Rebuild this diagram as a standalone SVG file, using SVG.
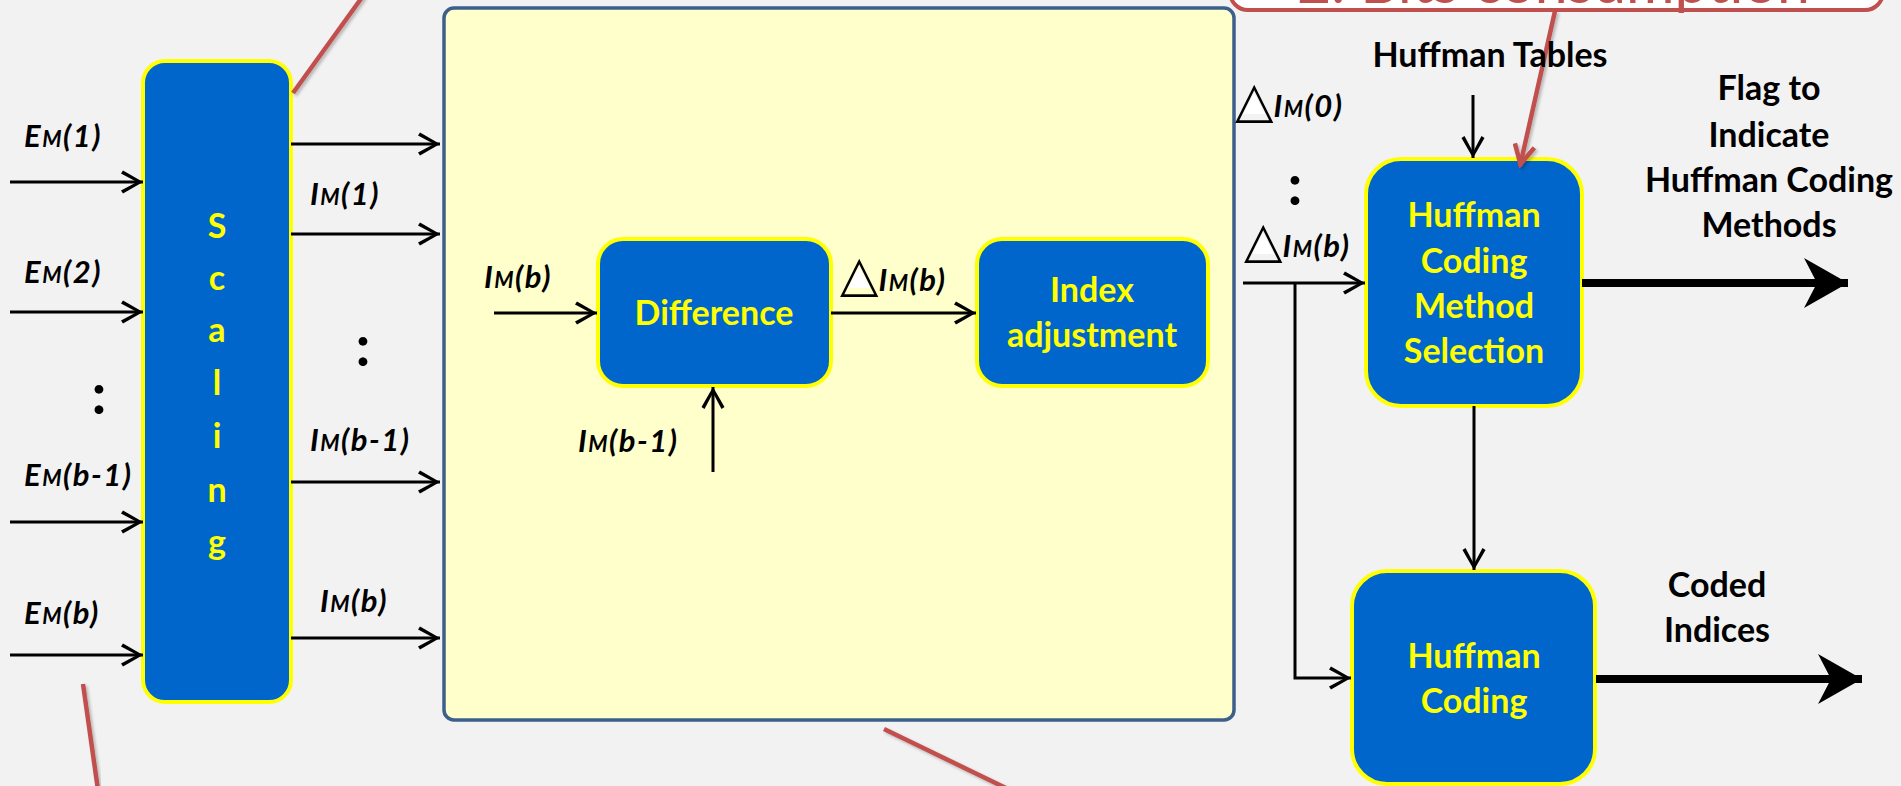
<svg xmlns="http://www.w3.org/2000/svg" width="1901" height="786" viewBox="0 0 1901 786">
  <style>
    .block { fill: #0066CC; stroke: #FFFF00; stroke-width: 4; }
    .btxt { font-family: Lato, "Liberation Sans", sans-serif; font-weight: bold; font-size: 34px; fill: #FFFF00; text-anchor: middle; }
    .lbl { font-family: Lato, "Liberation Sans", sans-serif; font-weight: bold; font-size: 34px; fill: #000; text-anchor: middle; }
    .sym { font-family: Lato, "Liberation Sans", sans-serif; font-weight: bold; font-style: italic; font-size: 31px; letter-spacing: 1.5px; fill: #000; }
    .sym .s { font-size: 22px; }
    .dots { font-family: Lato, "Liberation Sans", sans-serif; font-weight: bold; font-size: 58px; fill: #000; text-anchor: middle; }
    .tri { font-family: "DejaVu Sans", sans-serif; font-size: 50px; font-style: normal; font-weight: normal; letter-spacing: 0; fill: #000; }
    .wire { fill: none; stroke: #000; stroke-width: 3; }
    .thick { fill: none; stroke: #000; stroke-width: 8; }
    .red { fill: none; stroke: #C0504D; stroke-width: 4.5; filter: url(#shadow); }
    .fillw { fill: #FFFFFF; }
  </style>
  <defs>
    <marker id="head" viewBox="-24 -14 26 28" markerWidth="26" markerHeight="28" refX="0" refY="0" orient="auto" markerUnits="userSpaceOnUse">
      <polygon points="0,0 -20,-11.5 -22,-8.5 -6,0 -22,8.5 -20,11.5" fill="#000"/>
    </marker>
    <marker id="bighead" viewBox="-48 -28 50 56" markerWidth="50" markerHeight="56" refX="0" refY="0" orient="auto" markerUnits="userSpaceOnUse">
      <polygon points="0,0 -44,-25 -31,0 -44,25" fill="#000"/>
    </marker>
    <marker id="redhead" viewBox="-26 -16 30 32" markerWidth="30" markerHeight="32" refX="0" refY="0" orient="auto" markerUnits="userSpaceOnUse">
      <path d="M-21,-10 L-2,0 L-21,10" fill="none" stroke="#C0504D" stroke-width="4.5"/>
    </marker>
    <filter id="shadow" x="-20%" y="-20%" width="140%" height="140%">
      <feDropShadow dx="2" dy="2" stdDeviation="1.5" flood-color="#000" flood-opacity="0.25"/>
    </filter>
  </defs>

  <!-- page -->
  <rect x="0" y="0" width="1901" height="786" fill="#F2F2F2"/>

  <!-- container for the differential index stage -->
  <g id="diff-stage">
    <rect x="444" y="8" width="790" height="712" rx="10" fill="#FFFFCC" stroke="#3D5F8C" stroke-width="3.5"/>
  </g>

  <!-- callout: bit consumption -->
  <g id="callout-bits">
    <rect x="1230" y="-60" width="653" height="70" rx="18" fill="#FFFFFF" stroke="#C0504D" stroke-width="4"/>
    <text x="1297" y="3" font-family="Lato, 'Liberation Sans', sans-serif" font-size="58" fill="#C0504D" textLength="513" lengthAdjust="spacingAndGlyphs">2. Bits consumption</text>
  </g>

  <!-- blocks -->
  <g id="scaling">
    <rect class="block" x="143" y="61" width="148" height="641" rx="22"/>
    <text class="btxt" x="217" y="238">S</text>
    <text class="btxt" x="217" y="290">c</text>
    <text class="btxt" x="217" y="342">a</text>
    <text class="btxt" x="217" y="395">l</text>
    <text class="btxt" x="217" y="448">i</text>
    <text class="btxt" x="217" y="502">n</text>
    <text class="btxt" x="217" y="554">g</text>
  </g>
  <g id="difference">
    <rect class="block" x="598" y="239" width="233" height="147" rx="25"/>
    <text class="btxt" x="714" y="325">Difference</text>
  </g>
  <g id="index-adjustment">
    <rect class="block" x="977" y="239" width="231" height="147" rx="25"/>
    <text class="btxt" x="1092" y="302">Index</text>
    <text class="btxt" x="1092" y="347">adjustment</text>
  </g>
  <g id="method-selection">
    <rect class="block" x="1366" y="159" width="216" height="247" rx="35"/>
    <text class="btxt" x="1474" y="227">Huffman</text>
    <text class="btxt" x="1474" y="273">Coding</text>
    <text class="btxt" x="1474" y="318">Method</text>
    <text class="btxt" x="1474" y="363">Selection</text>
  </g>
  <g id="huffman-coding">
    <rect class="block" x="1352" y="571" width="243" height="213" rx="35"/>
    <text class="btxt" x="1474" y="668">Huffman</text>
    <text class="btxt" x="1474" y="713">Coding</text>
  </g>

  <!-- connectors -->
  <g id="connectors">
    <path class="wire" d="M10,182 H143" marker-end="url(#head)"/>
    <path class="wire" d="M10,312 H143" marker-end="url(#head)"/>
    <path class="wire" d="M10,522 H143" marker-end="url(#head)"/>
    <path class="wire" d="M10,655 H143" marker-end="url(#head)"/>
    <path class="wire" d="M291,144 H440" marker-end="url(#head)"/>
    <path class="wire" d="M291,234 H440" marker-end="url(#head)"/>
    <path class="wire" d="M291,482 H440" marker-end="url(#head)"/>
    <path class="wire" d="M291,638 H440" marker-end="url(#head)"/>
    <path class="wire" d="M494,313 H597" marker-end="url(#head)"/>
    <path class="wire" d="M831,313 H976" marker-end="url(#head)"/>
    <path class="wire" d="M713,472 V387" marker-end="url(#head)"/>
    <path class="wire" d="M1243,283 H1365" marker-end="url(#head)"/>
    <path class="wire" d="M1295,283 V678 H1351" marker-end="url(#head)"/>
    <path class="wire" d="M1473,95 V158" marker-end="url(#head)"/>
    <path class="wire" d="M1474,406 V570" marker-end="url(#head)"/>
    <path class="thick" d="M1582,283 H1848" marker-end="url(#bighead)"/>
    <path class="thick" d="M1596,679 H1862" marker-end="url(#bighead)"/>
  </g>

  <!-- callout pointers -->
  <g id="pointers">
    <path class="red" d="M293,93 L363,-4"/>
    <path class="red" d="M83,684 L98,790"/>
    <path class="red" d="M884,729 L1010,790"/>
    <path class="red" d="M1555,11 L1520,166" marker-end="url(#redhead)"/>
  </g>

  <!-- signal labels -->
  <g id="labels">
    <text class="sym" x="24" y="147">E<tspan class="s">M</tspan>(1)</text>
    <text class="sym" x="24" y="283">E<tspan class="s">M</tspan>(2)</text>
    <text class="sym" x="24" y="486">E<tspan class="s">M</tspan>(b-1)</text>
    <text class="sym" x="24" y="624">E<tspan class="s">M</tspan>(b)</text>
    <text class="dots" x="99" y="414">:</text>

    <text class="sym" x="310" y="205">I<tspan class="s">M</tspan>(1)</text>
    <text class="sym" x="310" y="451">I<tspan class="s">M</tspan>(b-1)</text>
    <text class="sym" x="320" y="612">I<tspan class="s">M</tspan>(b)</text>
    <text class="dots" x="363" y="366">:</text>

    <text class="sym" x="484" y="288">I<tspan class="s">M</tspan>(b)</text>
    <polygon class="fillw" points="859,267 848,288 870,288"/>
    <text class="sym" x="840" y="291"><tspan class="tri">△</tspan>I<tspan class="s">M</tspan>(b)</text>
    <text class="sym" x="578" y="452">I<tspan class="s">M</tspan>(b-1)</text>

    <polygon class="fillw" points="1254,93 1243,114 1265,114"/>
    <text class="sym" x="1235" y="117"><tspan class="tri">△</tspan>I<tspan class="s">M</tspan>(0)</text>
    <text class="dots" x="1295" y="205">:</text>
    <polygon class="fillw" points="1263,233 1252,254 1274,254"/>
    <text class="sym" x="1244" y="257"><tspan class="tri">△</tspan>I<tspan class="s">M</tspan>(b)</text>

    <text class="lbl" x="1490" y="67">Huffman Tables</text>
    <text class="lbl" x="1769" y="100">Flag to</text>
    <text class="lbl" x="1769" y="147">Indicate</text>
    <text class="lbl" x="1769" y="192">Huffman Coding</text>
    <text class="lbl" x="1769" y="237">Methods</text>
    <text class="lbl" x="1717" y="597">Coded</text>
    <text class="lbl" x="1717" y="642">Indices</text>
  </g>
</svg>
